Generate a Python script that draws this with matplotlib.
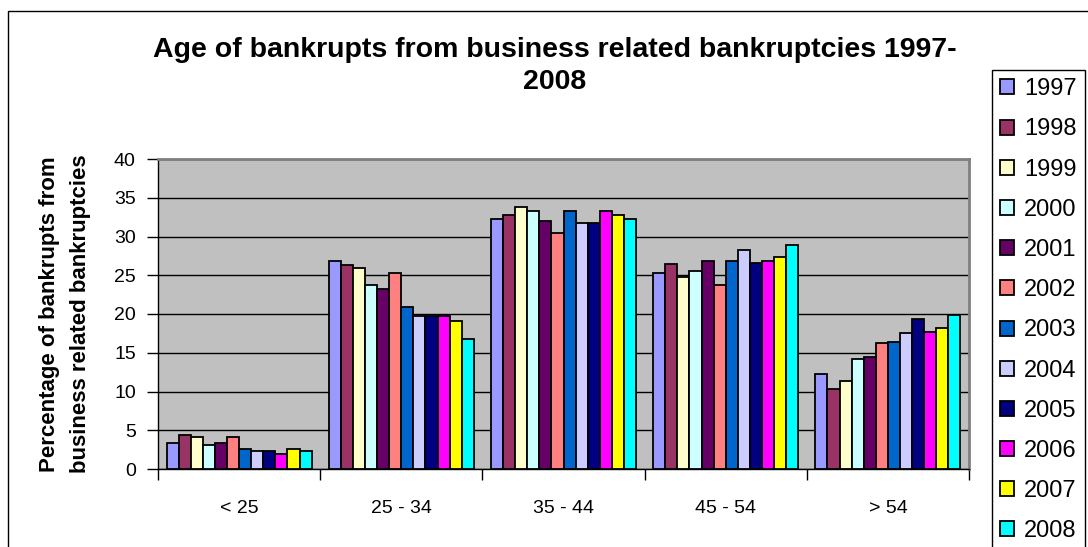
import numpy as np
import matplotlib.pyplot as plt
from matplotlib.patches import Rectangle

plt.rcParams.update({
    "font.family": ["Liberation Sans", "DejaVu Sans"],
})

# data
age_groups = ["< 25", "25 - 34", "35 - 44", "45 - 54", "> 54"]
years = ["1997", "1998", "1999", "2000", "2001", "2002",
         "2003", "2004", "2005", "2006", "2007", "2008"]

under_25 = [3.4, 4.4, 4.1, 3.1, 3.4, 4.1, 2.6, 2.3, 2.3, 2.0, 2.6, 2.3]
age_25_34 = [26.8, 26.3, 26.0, 23.7, 23.2, 25.3, 20.9, 19.8, 19.8, 19.8, 19.1, 16.8]
age_35_44 = [32.2, 32.8, 33.8, 33.3, 32.0, 30.5, 33.3, 31.7, 31.7, 33.3, 32.8, 32.2]
age_45_54 = [25.3, 26.4, 24.8, 25.5, 26.8, 23.7, 26.8, 28.3, 26.6, 26.8, 27.4, 28.9]
over_54 = [12.3, 10.3, 11.3, 14.2, 14.4, 16.2, 16.4, 17.5, 19.3, 17.7, 18.2, 19.9]

colors = ["#9999FF", "#993366", "#FFFFCC", "#CCFFFF", "#660066", "#FF8080",
          "#0066CC", "#CCCCFF", "#000080", "#FF00FF", "#FFFF00", "#00FFFF"]

values = np.array([under_25, age_25_34, age_35_44, age_45_54, over_54])  # group x year

fig = plt.figure(figsize=(10.88, 5.47), dpi=100)
ax = fig.add_axes([158 / 1088, 1 - 469 / 547, (969 - 158) / 1088, (469 - 159) / 547])

# outer chart border (cut off at right/bottom like the reference)
fig.patches.append(Rectangle((8 / 1088, -0.1), 1.2, 1.1 - 11 / 547, transform=fig.transFigure,
                             fill=False, edgecolor="black", lw=1.0, zorder=0))

ax.set_facecolor("#C0C0C0")
x = np.arange(len(age_groups))
n = len(years)
w = 0.895 / n
for j, yr in enumerate(years):
    ax.bar(x + (j - (n - 1) / 2) * w, values[:, j], width=w, color=colors[j],
           edgecolor="black", lw=1.3, label=yr, zorder=3)

ax.set_ylim(0, 40)
ax.set_xlim(-0.5, len(age_groups) - 0.5)
ax.set_yticks(np.arange(0, 41, 5))
ax.yaxis.grid(True, color="black", lw=1.0)
ax.set_axisbelow(True)
ax.tick_params(axis="y", labelsize=14, length=8, width=1, direction="out", pad=8)

ax.set_xticks(np.arange(-0.5, len(age_groups)), labels=[""] * (len(age_groups) + 1))
ax.tick_params(axis="x", which="major", length=8, width=1, direction="out")
ax.set_xticks(x, labels=age_groups, minor=True)
ax.tick_params(axis="x", which="minor", length=0, labelsize=14, pad=22)

for s in ["top", "right"]:
    ax.spines[s].set_color("#808080")
    ax.spines[s].set_linewidth(2)
for s in ["left", "bottom"]:
    ax.spines[s].set_color("black")
    ax.spines[s].set_linewidth(1)

ax.set_ylabel("Percentage of bankrupts from\nbusiness related bankruptcies",
              fontsize=16, fontweight="bold", linespacing=1.6, va="center")
ax.yaxis.set_label_coords(-0.115, 0.5)

fig.text(0.51, 1 - 66 / 547, "Age of bankrupts from business related bankruptcies 1997-\n2008",
         ha="center", va="center", fontsize=20.5, fontweight="bold", linespacing=1.3)

leg = ax.legend(loc="upper left", bbox_to_anchor=(992 / 1088, 1 - 70 / 547),
                bbox_transform=fig.transFigure, borderaxespad=0, fontsize=17,
                fancybox=False, edgecolor="black", framealpha=1,
                handlelength=0.6, handleheight=0.6, handletextpad=0.4,
                labelspacing=0.77, borderpad=0.35)
leg.get_frame().set_linewidth(1.0)

fig.savefig("out.png", dpi=100)
